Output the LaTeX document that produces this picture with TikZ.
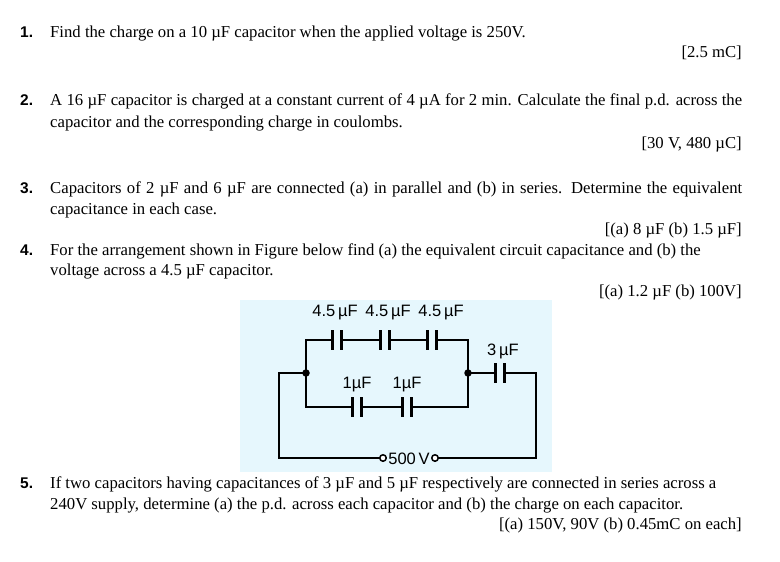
\documentclass[tikz,border=0pt]{standalone}
\usepackage{fontspec}
\setmainfont{Liberation Serif}
\newfontfamily\arial{Liberation Sans}
\begin{document}
\begin{tikzpicture}[x=1pt,y=-1pt,
  txt/.style={anchor=base west,inner sep=0pt,font=\fontsize{16.7}{19}\selectfont},
  ans/.style={anchor=base east,inner sep=0pt,font=\fontsize{16.7}{19}\selectfont},
  num/.style={anchor=base west,inner sep=0pt,font=\arial\bfseries\fontsize{15.5}{19}\selectfont},
  wire/.style={line width=2.2pt},
  lab/.style={inner sep=0pt,font=\arial\fontsize{16.5}{18}\selectfont},
  term/.style={circle,draw,line width=1.5pt,fill=white,inner sep=0pt,minimum size=6.5pt},
  dot/.style={circle,fill=black,inner sep=0pt,minimum size=7.5pt}]
\useasboundingbox (0,0) rectangle (780,562);
\fill[white] (0,0) rectangle (780,562);
% item 1
\node[num] (n1) at (20,37) {1.};
\node[txt] (t1) at (50,37) {Find the charge on a 10 µF capacitor when the applied voltage is 250V.};
\node[ans] (a1) at (742,57) {[2.5 mC]};
% item 2
\node[num] (n2) at (20,105) {2.};
\node[txt] (t2a) at (50,105) {\makebox[692pt][s]{A 16 µF capacitor is charged at a constant current of 4 µA for 2 min. Calculate the final p.d. across the}};
\node[txt] (t2b) at (50,127) {capacitor and the corresponding charge in coulombs.};
\node[ans] (a2) at (742,148) {[30 V, 480 µC]};
% item 3
\node[num] (n3) at (20,193) {3.};
\node[txt] (t3a) at (50,193) {\makebox[692pt][s]{Capacitors of 2 µF and 6 µF are connected (a) in parallel and (b) in series. Determine the equivalent}};
\node[txt] (t3b) at (50,214) {capacitance in each case.};
\node[ans] (a3) at (742,234) {[(a) 8 µF (b) 1.5 µF]};
% item 4
\node[num] (n4) at (20,255) {4.};
\node[txt] (t4a) at (50,255) {For the arrangement shown in Figure below find (a) the equivalent circuit capacitance and (b) the};
\node[txt] (t4b) at (50,275) {voltage across a 4.5 µF capacitor.};
\node[ans] (a4) at (742,296) {[(a) 1.2 µF (b) 100V]};
% item 5
\node[num] (n5) at (20,488) {5.};
\node[txt] (t5a) at (50,488) {If two capacitors having capacitances of 3 µF and 5 µF respectively are connected in series across a};
\node[txt] (t5b) at (50,509) {240V supply, determine (a) the p.d. across each capacitor and (b) the charge on each capacitor.};
\node[ans] (a5) at (742,529) {[(a) 150V, 90V (b) 0.45mC on each]};
% circuit
\fill[cyan!10] (240,300) rectangle (552,472);
\coordinate (TL) at (306,340); \coordinate (TR) at (468,340);
\coordinate (BL) at (306,407); \coordinate (BR) at (468,407);
\coordinate (OL) at (279,373); \coordinate (OR) at (536,373);
\coordinate (OLB) at (279,458); \coordinate (ORB) at (536,458);
\coordinate (NLc) at (306,373); \coordinate (NRc) at (468,373);
\coordinate (T1c) at (383,458); \coordinate (T2c) at (435,458);
\draw[wire] (T1c) -- (OLB) -- (OL) -- (NLc) -- (TL) -- (TR) -- (NRc) -- (BR) -- (BL) -- (NLc);
\draw[wire] (NRc) -- (OR) -- (ORB) -- (T2c);
\node[dot] (NL) at (NLc) {}; \node[dot] (NR) at (NRc) {};
\node[term] (T1) at (T1c) {}; \node[term] (T2) at (T2c) {};
\node[lab,anchor=center,fill=cyan!10,inner sep=1pt] (V) at (409,459) {500\,V};
% capacitor plates
\foreach \x/\y in {337/340,385/340,432/340,357/407,407/407,500/373}{
  \fill[cyan!10] (\x-4,\y-3) rectangle (\x+4,\y+3);
  \draw[line width=3.3pt] (\x-4.5,\y-10) -- (\x-4.5,\y+10) (\x+4.5,\y-10) -- (\x+4.5,\y+10);
}
\node[lab] (c1) at (335,313) {4.5\,µF};
\node[lab] (c2) at (388,313) {4.5\,µF};
\node[lab] (c3) at (441,313) {4.5\,µF};
\node[lab] (c4) at (503,351) {3\,µF};
\node[lab] (c5) at (357,385) {1µF};
\node[lab] (c6) at (407,385) {1µF};
\end{tikzpicture}
\end{document}
